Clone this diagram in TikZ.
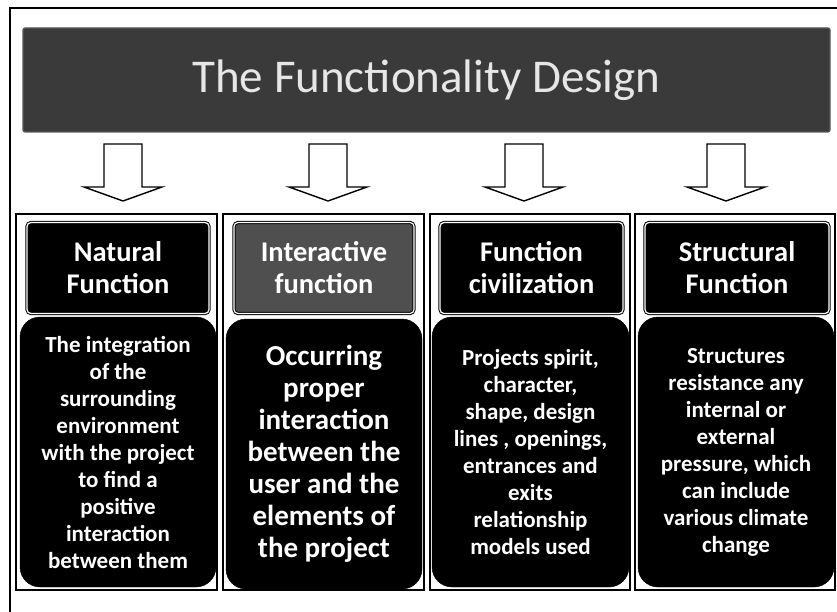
\documentclass[tikz,border=0pt]{standalone}
\usepackage{fontspec}
\setmainfont{Carlito}
\usetikzlibrary{calc}
\definecolor{bannergray}{HTML}{3A3A3A}
\definecolor{hdrgray}{HTML}{4F4F4F}
\definecolor{titletext}{HTML}{E6E6E6}
\tikzset{
  outerframe/.style={draw=black, line width=1.2pt},
  bannerbox/.style={fill=bannergray, draw=gray!70!black, line width=1.2pt, rounded corners=2pt,
    text=titletext, font=\fontsize{47}{50}\selectfont, inner sep=0pt,
    minimum width=807pt, minimum height=104pt},
  colframe/.style={draw=black, line width=1.2pt, inner sep=0pt, minimum height=376pt},
  hdr/.style={fill=black, draw=black, double=white, double distance=1.2pt, line width=1pt,
    rounded corners=4pt, text=white, font=\bfseries\fontsize{28.5}{32}\selectfont,
    align=center, inner sep=0pt, minimum height=91pt},
  bodybox/.style={fill=black, draw=black, rounded corners=20pt, text=white,
    font=\bfseries\fontsize{23}{27}\selectfont, align=center, inner sep=0pt, minimum height=270pt},
  blockarrow/.style={draw=black, fill=white, line width=1.4pt, line join=miter},
}
\begin{document}
\begin{tikzpicture}[x=1pt, y=-1pt]
\useasboundingbox (0,0) rectangle (837,612);
\fill[white] (0,0) rectangle (837,612);
% outer frame (left and top edges)
\draw[outerframe] (837,8) -- (10,8) -- (10,612);
% title banner
\node[bannerbox] (title) at (426.5,80) {The Functionality Design};
% column frames
\node[colframe, minimum width=201pt] (f1) at (116.5,402) {};
\node[colframe, minimum width=201pt] (f2) at (323.5,402) {};
\node[colframe, minimum width=200pt] (f3) at (530,402) {};
\node[colframe, minimum width=200pt] (f4) at (735,402) {};
% headers
\node[hdr, minimum width=182pt] (h1) at (118,268) {Natural\\Function};
\node[hdr, fill=hdrgray, minimum width=180pt] (h2) at (324,268) {Interactive\\function};
\node[hdr, minimum width=183pt] (h3) at (531.5,268) {Function\\civilization};
\node[hdr, minimum width=184pt] (h4) at (737,268) {Structural\\Function};
% bodies
\node[bodybox, minimum width=196pt] (b1) at (118,452)
  {The integration\\of the\\surrounding\\environment\\with the project\\to find a\\positive\\interaction\\between them};
\node[bodybox, minimum width=196pt, font=\bfseries\fontsize{29}{32}\selectfont] (b2) at (324,454)
  {Occurring\\proper\\interaction\\between the\\user and the\\elements of\\the project};
\node[bodybox, minimum width=197pt] (b3) at (530.5,452)
  {Projects spirit,\\character,\\shape, design\\lines , openings,\\entrances and\\exits\\relationship\\models used};
\node[bodybox, minimum width=196pt] (b4) at (736,452)
  {Structures\\resistance any\\internal or\\external\\pressure, which\\can include\\various climate\\change};
% block arrows from the banner to the columns
\foreach \cx/\n in {123/1, 328/2, 524/3, 726/4}{
  \coordinate (a\n) at (\cx,144);
  \draw[blockarrow] ($(a\n)+(-19,0)$) -- ($(a\n)+(19,0)$) -- ($(a\n)+(19,43)$) -- ($(a\n)+(39,43)$)
     -- ($(a\n)+(0,57)$) -- ($(a\n)+(-39,43)$) -- ($(a\n)+(-19,43)$) -- cycle;
}
\end{tikzpicture}
\end{document}
